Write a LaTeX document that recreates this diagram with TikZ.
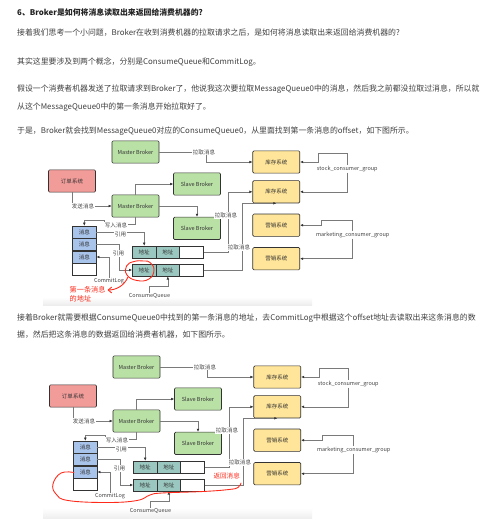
\documentclass[tikz,border=0pt]{standalone}
\usepackage{fontspec}
\newfontfamily\cjk{Noto Sans CJK SC}
\usetikzlibrary{arrows.meta}
\definecolor{textgray}{HTML}{404040}
\definecolor{titlegray}{HTML}{222222}
\definecolor{boxline}{HTML}{333333}
\definecolor{linegray}{HTML}{7A7A7A}
\definecolor{lblgray}{HTML}{444444}
\definecolor{boxgreen}{HTML}{B9E0A5}
\definecolor{boxred}{HTML}{F19C99}
\definecolor{boxyellow}{HTML}{FFE599}
\definecolor{cellblue}{HTML}{A9C4EB}
\definecolor{cellteal}{HTML}{9AC7BF}
\definecolor{notered}{HTML}{FF2A1A}
\begin{document}
\begin{tikzpicture}[
  x=0.03cm, y=-0.03cm,
  txt/.style={anchor=west, inner sep=0pt, text=textgray, font=\cjk\fontsize{6.72}{8}\selectfont},
  box/.style={draw=boxline, rounded corners=1pt, line width=0.55pt, minimum width=1.41cm,
    minimum height=0.67cm, inner sep=0pt, text=boxline, font=\cjk\fontsize{4.7}{5}\selectfont},
  cell/.style={draw=boxline, line width=0.5pt, minimum width=0.71cm, minimum height=0.37cm,
    inner sep=0pt, text=boxline, font=\cjk\fontsize{4.7}{5}\selectfont},
  conn/.style={draw=linegray, line width=0.45pt, -{Latex[length=2.6pt,width=2.3pt,color=boxline]}},
  lbl/.style={fill=white, inner sep=0.6pt, text=lblgray, font=\cjk\fontsize{4.7}{5}\selectfont},
  note/.style={text=notered, inner sep=0pt, align=left, font=\cjk\fontsize{6.1}{7.6}\selectfont},
  redmark/.style={draw=notered, line width=0.75pt, line cap=round}
]
  \useasboundingbox[fill=white] (0,0) rectangle (500,519);

  % article text
  \node[txt, font=\cjk\bfseries\fontsize{6.72}{8}\selectfont, text=titlegray] (t1) at (17,12.7) {6、Broker是如何将消息读取出来返回给消费机器的?};
  \node[txt] (t2) at (17,33) {接着我们思考一个小问题，Broker在收到消费机器的拉取请求之后，是如何将消息读取出来返回给消费机器的?};
  \node[txt] (t3) at (17,62.3) {其实这里要涉及到两个概念，分别是ConsumeQueue和CommitLog。};
  \node[txt] (t4) at (17,89.3) {假设一个消费者机器发送了拉取请求到Broker了，他说我这次要拉取MessageQueue0中的消息，然后我之前都没拉取过消息，所以就};
  \node[txt] (t5) at (17,107.3) {从这个MessageQueue0中的第一条消息开始拉取好了。};
  \node[txt] (t6) at (17,130.7) {于是，Broker就会找到MessageQueue0对应的ConsumeQueue0，从里面找到第一条消息的offset，如下图所示。};
  \node[txt] (t7) at (17,318.3) {接着Broker就需要根据ConsumeQueue0中找到的第一条消息的地址，去CommitLog中根据这个offset地址去读取出来这条消息的数};
  \node[txt] (t8) at (17,335) {据，然后把这条消息的数据返回给消费者机器，如下图所示。};

  % image shadows
  \shade[top color=white, bottom color=black!7] (43,297) rectangle (312,305);
  \shade[top color=white, bottom color=black!7] (43,508) rectangle (312,519);

  % the two diagrams share one layout
  \foreach \pre/\dx/\dy in {a/0/0, b/1/215} {
  \begin{scope}[shift={(\dx,\dy)}, name prefix/.expanded=\pre-]
    \node[box, fill=boxgreen] (mbt) at (135.5,152) {Master Broker};
    \node[box, fill=boxred] (order) at (72,181) {订单系统};
    \node[box, fill=boxgreen] (sb1) at (197,184) {Slave Broker};
    \node[box, fill=boxgreen] (mb) at (135.5,206) {Master Broker};
    \node[box, fill=boxgreen] (sb2) at (197,228.3) {Slave Broker};
    \node[box, fill=boxyellow] (k1) at (276.3,162) {库存系统};
    \node[box, fill=boxyellow] (k2) at (276.3,191.8) {库存系统};
    \node[box, fill=boxyellow] (y1) at (276.3,225.2) {营销系统};
    \node[box, fill=boxyellow] (y2) at (276.3,258.7) {营销系统};

    \foreach \i/\y in {1/232.2, 2/244.6, 3/257}
      \node[cell, fill=cellblue] (m\i) at (84.3,\y) {消息};
    \node[cell] (m4) at (84.3,269.4) {};
    \foreach \r/\y in {1/252.2, 2/270} {
      \node[cell, fill=cellteal] (r\r c1) at (144.2,\y) {地址};
      \node[cell, fill=cellteal] (r\r c2) at (167.8,\y) {地址};
      \node[cell] (r\r c3) at (191.5,\y) {};
    }

    \node[lbl, fill=none] (cl) at (109,281.5) {CommitLog};
    \node[lbl, fill=none] (cq) at (149.5,296.3) {ConsumeQueue};
    \node[lbl, fill=none] (sg) at (347.3,168.7) {stock\_consumer\_group};
    \node[lbl, fill=none] (mg) at (352.7,235) {marketing\_consumer\_group};

    \draw[conn] (mbt.east) -- ++(47,0) |- (k1.west);
    \draw[conn] (order.south) |- (mb.west);
    \draw[conn] (mb.north) |- (sb1.west);
    \draw[conn] (mb.east) -| (sb2.north);
    \draw[conn] (mb.south) -- ++(0,7) -| (104,220) -| (m1.north);
    \draw[conn] (m1.east) -| (r1c1.north);
    \draw[conn] (m2.east) -- ++(22.5,0) |- (r2c1.west);
    \draw[conn] (cl.north) |- (m3.east);
    \draw[conn] (cq.north) -- ++(0,-7) -| (r2c2.south);
    \draw[conn] (r1c3.east) -- ++(25,0) |- (k2.west);
    \draw[conn] (r2c3.east) -- ++(38.4,0) |- (k2.south);
    \draw[conn] (sg.north) |- (318.3,153.3) |- (k1.east);
    \draw[conn] (sg.south) |- (k2.east);
    \draw[conn] (mg.north) |- (321.3,220) |- (y1.east);
    \draw[conn] (mg.south) |- (y2.east);

    \node[lbl] (pull1) at (204,152) {拉取消息};
    \node[lbl] (send) at (83,206.5) {发送消息};
    \node[lbl] (write) at (116,225) {写入消息};
    \node[lbl] (ref1) at (120.5,234.5) {引用};
    \node[lbl] (ref2) at (118.5,253.5) {引用};
    \node[lbl] (pull2) at (226,215.5) {拉取消息};
    \node[lbl] (pull3) at (239,247.7) {拉取消息};
  \end{scope}
  }

  % hand-drawn marks, first diagram
  \draw[redmark] plot[smooth cycle, tension=0.8] coordinates {(150,262.5) (154,270) (149,279) (137,280.5) (127,275) (126.5,266) (134,261.5) (144,261)};
  \draw[redmark, -{Straight Barb[length=3pt,width=5pt]}] (128,277) .. controls (124,286) and (116,290) .. (107.5,290);
  \node[note, anchor=north west] (first) at (69.5,285.8) {第一条消息\\的地址};

  % hand-drawn marks, second diagram
  \draw[redmark] plot[smooth, tension=0.7] coordinates {(74,472.5) (61,473) (53,484) (56,494) (68,500.5) (107,502.5) (137,500.5) (150,495) (162,493) (203,491.5) (229,489.5) (238,487.5) (241,483)};
  \node[note, font=\cjk\fontsize{5.6}{6.5}\selectfont] (back) at (226.7,475.5) {返回消息};
\end{tikzpicture}
\end{document}
